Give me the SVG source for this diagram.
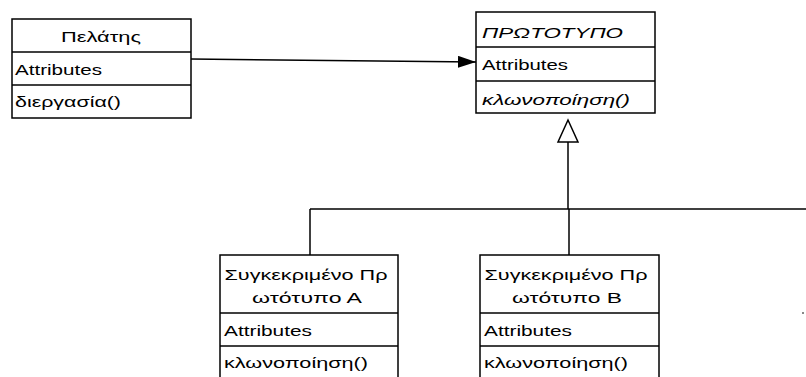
<svg xmlns="http://www.w3.org/2000/svg" width="806" height="377" viewBox="0 0 806 377">
  <defs>
    <style>
      .box { fill: #ffffff; stroke: #000000; stroke-width: 1.5; }
      .sep { stroke: #000000; stroke-width: 1.5; }
      .wire { fill: none; stroke: #000000; stroke-width: 1.5; }
      text { font-family: "Liberation Sans", Arial, sans-serif; font-size: 15px; fill: #000000; }
      .it { font-style: italic; }
      .mid { text-anchor: middle; }
    </style>
    <marker id="filled" viewBox="0 0 18 12" refX="18" refY="6" markerWidth="18" markerHeight="12" markerUnits="userSpaceOnUse" orient="auto">
      <path d="M0,0 L18,6 L0,12 Z" fill="#000000"/>
    </marker>
  </defs>

  <rect width="806" height="377" fill="#ffffff"/>

  <!-- connectors -->
  <g id="connectors">
    <!-- client uses prototype -->
    <path class="wire" d="M191,59 L476,62" marker-end="url(#filled)"/>
    <!-- inheritance tree -->
    <path class="wire" d="M568,142 L568,209"/>
    <path class="wire" d="M310,209 L806,209"/>
    <path class="wire" d="M310,209 L310,255"/>
    <path class="wire" d="M569,209 L569,255"/>
    <polygon points="568,120 558,142 578,142" fill="#ffffff" stroke="#000000" stroke-width="1.5"/>
  </g>

  <!-- client class -->
  <g id="client">
    <rect class="box" x="12" y="19" width="179" height="99"/>
    <line class="sep" x1="12" y1="52" x2="191" y2="52"/>
    <line class="sep" x1="12" y1="85" x2="191" y2="85"/>
    <text class="mid" x="101" y="42" textLength="80" lengthAdjust="spacingAndGlyphs">Πελάτης</text>
    <text x="15" y="75" textLength="87" lengthAdjust="spacingAndGlyphs">Attributes</text>
    <text x="15" y="107" textLength="106" lengthAdjust="spacingAndGlyphs">διεργασία()</text>
  </g>

  <!-- abstract prototype class -->
  <g id="prototype">
    <rect class="box" x="476" y="12" width="179" height="101"/>
    <line class="sep" x1="476" y1="47" x2="655" y2="47"/>
    <line class="sep" x1="476" y1="81" x2="655" y2="81"/>
    <text class="it" x="482" y="38" textLength="141" lengthAdjust="spacingAndGlyphs">ΠΡΩΤΟΤΥΠΟ</text>
    <text x="482" y="70" textLength="86" lengthAdjust="spacingAndGlyphs">Attributes</text>
    <text class="it" x="482" y="105" textLength="148" lengthAdjust="spacingAndGlyphs">κλωνοποίηση()</text>
  </g>

  <!-- concrete prototype A -->
  <g id="concrete-a">
    <rect class="box" x="220" y="255" width="178" height="135"/>
    <line class="sep" x1="220" y1="313" x2="398" y2="313"/>
    <line class="sep" x1="220" y1="346" x2="398" y2="346"/>
    <text class="mid" x="306" y="280" textLength="163" lengthAdjust="spacingAndGlyphs">Συγκεκριμένο Πρ</text>
    <text class="mid" x="307" y="303" textLength="110" lengthAdjust="spacingAndGlyphs">ωτότυπο Α</text>
    <text x="224" y="336" textLength="88" lengthAdjust="spacingAndGlyphs">Attributes</text>
    <text x="224" y="368" textLength="144" lengthAdjust="spacingAndGlyphs">κλωνοποίηση()</text>
  </g>

  <!-- concrete prototype B -->
  <g id="concrete-b">
    <rect class="box" x="480" y="255" width="179" height="135"/>
    <line class="sep" x1="480" y1="313" x2="659" y2="313"/>
    <line class="sep" x1="480" y1="346" x2="659" y2="346"/>
    <text class="mid" x="566" y="280" textLength="163" lengthAdjust="spacingAndGlyphs">Συγκεκριμένο Πρ</text>
    <text class="mid" x="567" y="303" textLength="110" lengthAdjust="spacingAndGlyphs">ωτότυπο Β</text>
    <text x="484" y="336" textLength="88" lengthAdjust="spacingAndGlyphs">Attributes</text>
    <text x="484" y="368" textLength="144" lengthAdjust="spacingAndGlyphs">κλωνοποίηση()</text>
  </g>

  <!-- stray dot -->
  <rect x="802" y="312" width="2" height="2" fill="#888888"/>
</svg>
